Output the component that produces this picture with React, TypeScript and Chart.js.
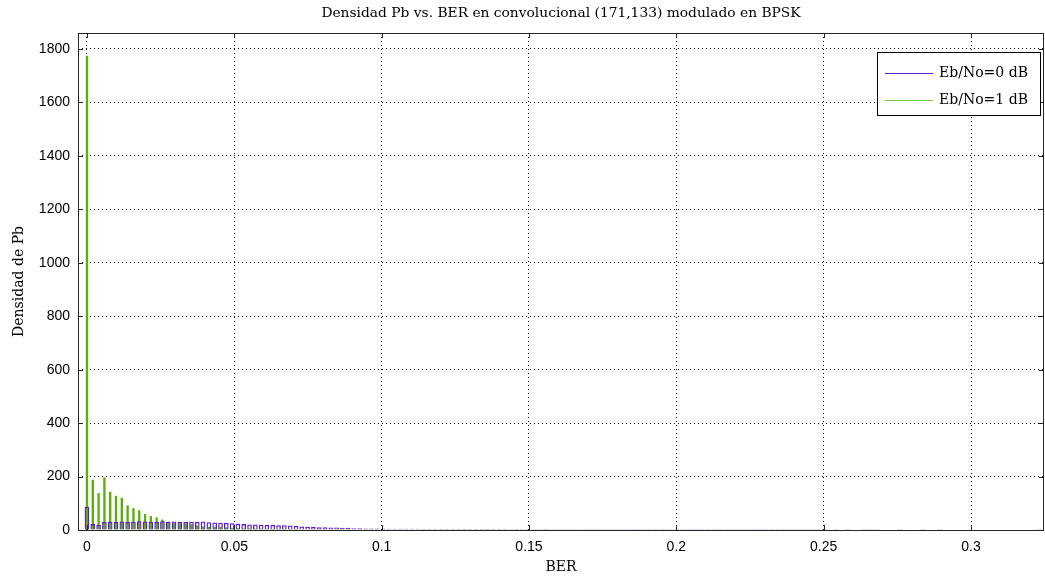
import { useEffect, useRef } from "react";
import { Chart, registerables } from "chart.js";

Chart.register(...registerables);

const TITLE = "Densidad Pb vs. BER en convolucional (171,133) modulado en BPSK";
const X_TITLE = "BER";
const Y_TITLE = "Densidad de Pb";
const SERIES_NAMES = ["Eb/No=0 dB", "Eb/No=1 dB"];

// histogram bin width (BER) and axis ranges
const BIN_WIDTH = 0.00197;
const X_MIN = -0.00305;
const X_MAX = 0.32477;
const Y_MAX = 1860;
const X_TICKS = [0, 0.05, 0.1, 0.15, 0.2, 0.25, 0.3];
const X_TICK_LABELS = ["0", "0.05", "0.1", "0.15", "0.2", "0.25", "0.3"];
const Y_TICKS = [0, 200, 400, 600, 800, 1000, 1200, 1400, 1600, 1800];
const Y_TICK_LABELS = ["0", "200", "400", "600", "800", "1000", "1200", "1400", "1600", "1800"];

// Eb/No = 0 dB histogram counts (one per bin)
const DENS_0DB = [
  87, 22, 20, 30, 31, 30, 32, 30, 31, 33,
  32, 31, 30, 33, 31, 32, 31, 30, 31, 30,
  32, 29, 28, 27, 26, 25, 23, 22, 21, 21,
  20, 19, 19, 18, 18, 17, 15, 13, 12, 11,
  10, 10, 9, 9, 8, 8, 7, 7, 6, 6,
  6, 6, 5, 5, 5, 5, 5, 5, 4, 4,
  4, 4, 4, 4, 4, 4, 4, 4, 4, 4,
  4, 4, 4, 4, 4, 4, 4, 4, 4, 4,
  4, 4, 4, 4, 4, 4, 4, 4, 4, 4,
  4, 4, 4, 4, 4, 4, 4, 4, 4, 4,
  4, 4, 4, 4, 4, 4, 4, 4, 4, 4,
  4, 4, 4, 4, 4, 4, 4, 4, 4, 4,
  4, 4, 4, 4, 4, 4, 4, 4, 0, 4,
  0, 4, 0, 0, 4, 4, 4, 0, 0, 0,
  4, 0, 0, 0, 4, 0, 0, 4, 0, 0,
  0, 0, 0, 0, 0, 0, 0, 0, 0, 0,
  0, 0, 0, 0, 4,
];

// Eb/No = 1 dB histogram counts (one per bin)
const DENS_1DB = [
  1775, 188, 138, 197, 143, 128, 120, 92, 82, 74,
  60, 52, 47, 39, 31, 26, 26, 24, 22, 17,
  13, 12, 12, 11, 10, 8, 7, 6, 6, 5,
  5, 5, 4, 4, 4, 4, 4, 3, 3, 3,
  3, 3, 3, 3, 3, 3, 3, 3, 3, 3,
  3, 3, 3, 3, 3, 3, 3, 3, 3, 3,
  3, 3, 3, 3, 3, 3, 3, 3, 3, 3,
  3, 3, 3, 0, 3, 0, 3, 0, 0, 3,
  0, 0, 0, 0, 0, 0, 0, 0, 0, 0,
  0, 0, 0, 0, 0, 0, 0, 0, 0, 0,
  0, 0, 0, 0, 0, 0, 0, 0, 0, 0,
  0, 0, 0, 0, 0, 0, 0, 0, 0, 0,
  0, 0, 0, 0, 0, 0, 0, 0, 0, 0,
  0, 0, 0, 0, 0, 0, 0, 0, 0, 0,
  0, 0, 0, 0, 0, 0, 0, 0, 0, 0,
  0, 0, 0, 0, 0, 0, 0, 0, 0, 0,
  0, 0, 0, 0, 0,
];

const PURPLE = "#5a1ccc";
const GREEN = "#5aae0a";
const GREEN_LEGEND = "#7cc840";
const FRAME = "#262626";
const SERIF = "'DejaVu Serif', 'Liberation Serif', serif";
const SANS = "'Liberation Sans', 'Arimo', sans-serif";

const framePlugin = {
  id: "frameTicks",
  afterDatasetsDraw(chart: any) {
    const { ctx, chartArea, scales } = chart;
    const { left, right, top, bottom } = chartArea;
    ctx.save();
    ctx.strokeStyle = FRAME;
    ctx.lineWidth = 1;
    ctx.setLineDash([]);
    ctx.strokeRect(Math.round(left) + 0.5, Math.round(top) + 0.5, Math.round(right - left) - 1, Math.round(bottom - top));
    const len = 5;
    ctx.beginPath();
    for (const v of X_TICKS) {
      const px = Math.round(scales.x.getPixelForValue(v)) + 0.5;
      ctx.moveTo(px, bottom);
      ctx.lineTo(px, bottom - len);
      ctx.moveTo(px, top);
      ctx.lineTo(px, top + len);
    }
    for (const v of Y_TICKS) {
      const py = Math.round(scales.y.getPixelForValue(v)) + 0.5;
      ctx.moveTo(left, py);
      ctx.lineTo(left + len, py);
      ctx.moveTo(right, py);
      ctx.lineTo(right - len, py);
    }
    ctx.stroke();

    // legend box
    const bw = 163;
    const bh = 63;
    const bx = Math.round(right) - 4 - bw;
    const by = Math.round(top) + 19;
    ctx.fillStyle = "#ffffff";
    ctx.fillRect(bx, by, bw, bh);
    ctx.strokeStyle = "#000000";
    ctx.strokeRect(bx + 0.5, by + 0.5, bw, bh);
    const colors = [PURPLE, GREEN_LEGEND];
    ctx.font = `14px ${SERIF}`;
    ctx.textBaseline = "middle";
    ctx.textAlign = "left";
    SERIES_NAMES.forEach((name, i) => {
      const y = by + 21 + i * 27;
      ctx.strokeStyle = colors[i];
      ctx.beginPath();
      ctx.moveTo(bx + 8, y + 0.5);
      ctx.lineTo(bx + 56, y + 0.5);
      ctx.stroke();
      ctx.fillStyle = "#000000";
      ctx.fillText(name, bx + 62, y);
    });
    ctx.restore();
  },
};

export default function App() {
  const ref = useRef<HTMLCanvasElement | null>(null);

  useEffect(() => {
    if (!ref.current) return;
    const chart = new Chart(ref.current, {
      type: "bar",
      data: {
        datasets: [
          {
            label: SERIES_NAMES[0],
            data: DENS_0DB.map((v, i) => ({ x: i * BIN_WIDTH, y: v })),
            backgroundColor: "rgba(0,0,0,0)",
            borderColor: PURPLE,
            borderWidth: 1.3,
            barPercentage: 0.8,
            categoryPercentage: 1,
            grouped: false,
            order: 1,
          } as any,
          {
            label: SERIES_NAMES[1],
            data: DENS_1DB.map((v, i) => ({ x: i * BIN_WIDTH, y: v })),
            backgroundColor: GREEN,
            borderWidth: 0,
            barPercentage: 0.4,
            categoryPercentage: 1,
            grouped: false,
            order: 2,
          } as any,
        ],
      },
      options: {
        animation: false,
        responsive: false,
        layout: { padding: { left: 11, right: 1, top: 0, bottom: 0 } },
        plugins: {
          legend: { display: false },
          tooltip: { enabled: false },
          title: {
            display: true,
            text: TITLE,
            fullSize: false,
            color: "#000",
            font: { family: SERIF, size: 13.8, weight: "normal" },
            padding: { top: 5, bottom: 11.4 },
          },
        },
        scales: {
          x: {
            type: "linear",
            min: X_MIN,
            max: X_MAX,
            offset: false,
            afterBuildTicks: (s: any) => {
              s.ticks = X_TICKS.map((v) => ({ value: v }));
            },
            afterFit: (s: any) => {
              s.height = 48;
            },
            ticks: {
              autoSkip: false,
              maxRotation: 0,
              padding: 9,
              color: "#000",
              font: { family: SANS, size: 14 },
              callback: (v: any) => {
                const i = X_TICKS.findIndex((t) => Math.abs(t - Number(v)) < 1e-9);
                return i >= 0 ? X_TICK_LABELS[i] : "";
              },
            },
            grid: { offset: false, color: "#000", lineWidth: 1, drawTicks: false },
            border: { display: false, dash: [1, 3] },
            title: {
              display: true,
              text: X_TITLE,
              color: "#000",
              font: { family: SERIF, size: 14 },
              padding: { top: 0, bottom: 2 },
            },
          },
          y: {
            type: "linear",
            min: 0,
            max: Y_MAX,
            afterBuildTicks: (s: any) => {
              s.ticks = Y_TICKS.map((v) => ({ value: v }));
            },
            afterFit: (s: any) => {
              s.width = 67;
            },
            ticks: {
              autoSkip: false,
              padding: 8,
              color: "#000",
              font: { family: SANS, size: 14 },
              callback: (v: any) => {
                const i = Y_TICKS.indexOf(Number(v));
                return i >= 0 ? Y_TICK_LABELS[i] : "";
              },
            },
            grid: { color: "#000", lineWidth: 1, drawTicks: false },
            border: { display: false, dash: [1, 3] },
            title: {
              display: true,
              text: Y_TITLE,
              color: "#000",
              font: { family: SERIF, size: 14 },
              padding: { top: 0, bottom: 0 },
            },
          },
        },
      },
      plugins: [framePlugin],
    });
    return () => chart.destroy();
  }, []);

  return (
    <div style={{ position: "fixed", left: 0, top: 0, width: 1045, height: 578, background: "#fff" }}>
      <canvas ref={ref} width={1045} height={578} style={{ display: "block" }} />
    </div>
  );
}
